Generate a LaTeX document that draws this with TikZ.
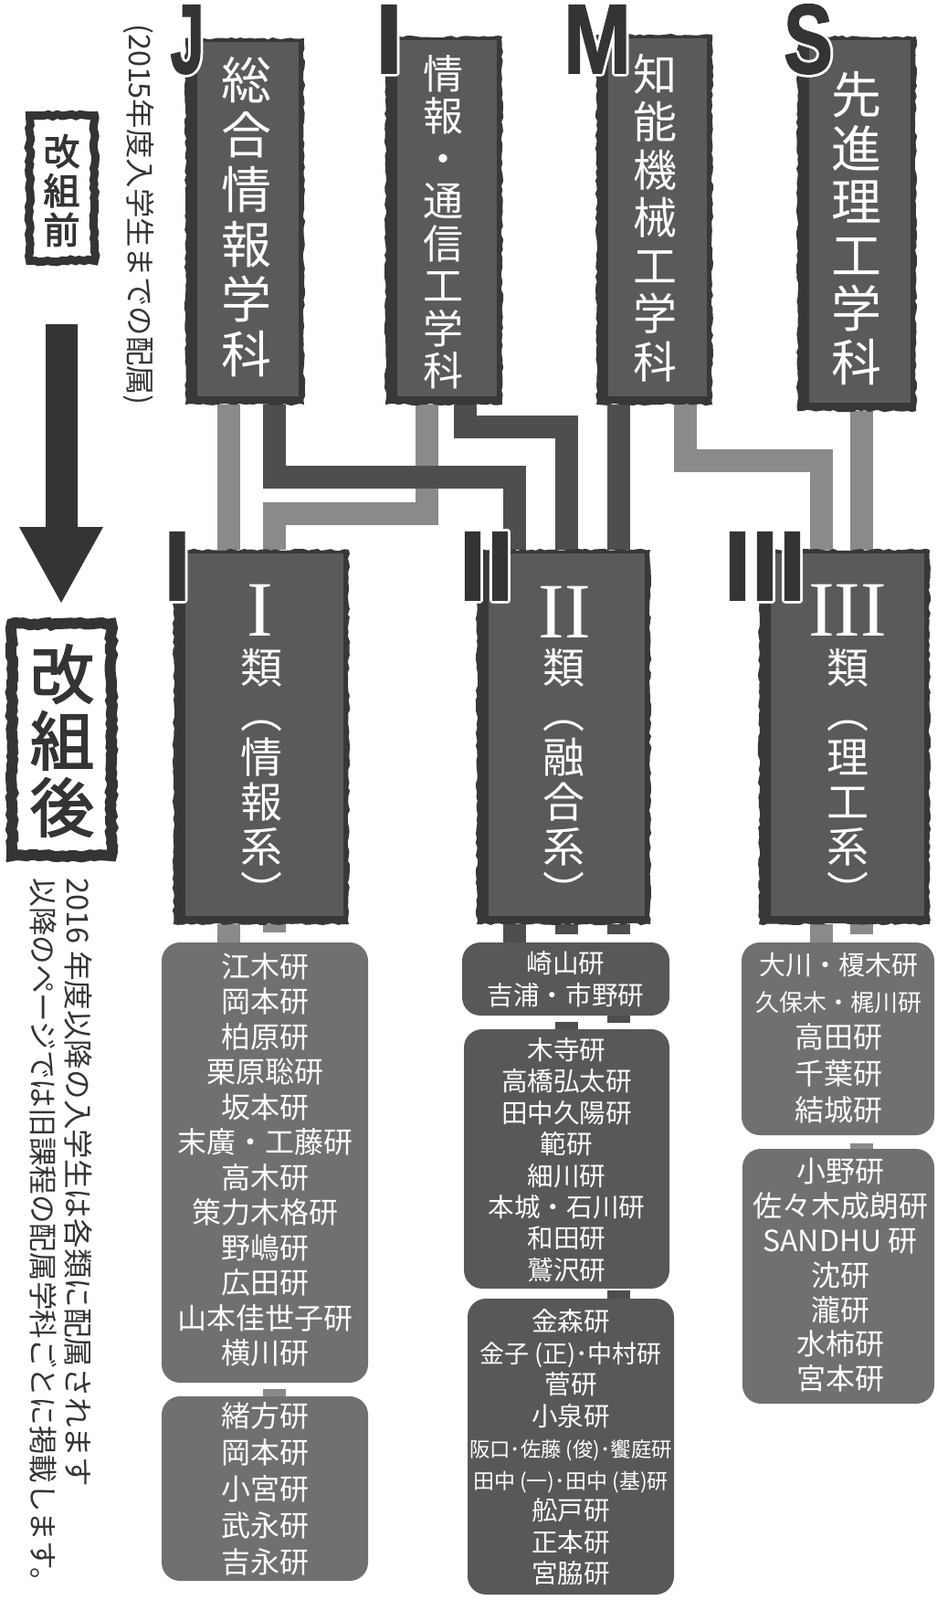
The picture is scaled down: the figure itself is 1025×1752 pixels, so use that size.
\documentclass[tikz,border=0pt]{standalone}
\usepackage{fontspec}
\setmainfont{Noto Sans CJK JP}
\newfontfamily\headjp[FakeBold=2.5]{Noto Sans CJK JP}
\newfontfamily\capfont[FakeBold=1.5]{Liberation Sans}
\newfontfamily\romanfont{Liberation Serif}
\usepackage[copies]{contour}
\contourlength{1.4pt}
\contournumber{12}
\usepackage{tikz}
\usetikzlibrary{positioning,calc,fit,backgrounds,decorations.pathmorphing}
\definecolor{framedark}{RGB}{56,56,56}
\definecolor{signfill}{RGB}{90,90,90}
\definecolor{bandlight}{RGB}{138,138,138}
\definecolor{banddark}{RGB}{78,78,78}
\definecolor{grouplight}{RGB}{112,112,112}
\definecolor{groupdark}{RGB}{88,88,88}
\definecolor{inkdark}{RGB}{52,52,52}
\tikzset{
  signframe/.style={fill=framedark, inner sep=0pt,
    decoration={random steps, segment length=2.5pt, amplitude=0.6pt}, decorate,
    path picture={\fill[signfill] ([shift={(14,5)}]path picture bounding box.north west) rectangle ([shift={(-7,-10)}]path picture bounding box.south east);}},
  signtext/.style={text=white, align=center, inner sep=0pt},
  labgroup/.style={rounded corners=10pt, inner sep=0pt},
  grouplt/.style={labgroup, fill=grouplight},
  groupdk/.style={labgroup, fill=groupdark},
  labtext/.style={text=white, align=center, inner sep=0pt},
  lightband/.style={draw=bandlight, line width=12.5pt, line cap=butt, line join=miter},
  darkband/.style={draw=banddark, line width=12.5pt, line cap=butt, line join=miter},
  roughframe/.style={draw=inkdark, line width=#1, fill=white, inner sep=0pt,
    decoration={random steps, segment length=2.5pt, amplitude=0.7pt}, decorate},
  deptletter/.style={text=inkdark, inner sep=0pt, anchor=base, font=\capfont\bfseries\fontsize{54pt}{54pt}\selectfont},
  notetext/.style={text=inkdark, rotate=-90, inner sep=0pt}
}
\begin{document}
\begin{tikzpicture}[x=0.5pt,y=-0.5pt]
\useasboundingbox (0,0) rectangle (1025,1752);

% before / after labels
\node[roughframe=4.5pt, fit={(32.5,126.5) (103.5,285.5)}] (beforebox) {};
\node[text=inkdark, align=center, inner sep=0pt, font=\headjp\fontsize{20pt}{21.5pt}\selectfont] (beforetext) at (67.5,208.5) {改\\組\\前};
\node[notetext, font=\fontsize{16.2pt}{16.2pt}\selectfont] (oldnote) at (152,235) {(2015年度入学生までの配属)};
\fill[inkdark] (50,355) -- (85,355) -- (85,577) -- (113,577) -- (67,660) -- (21,577) -- (50,577) -- cycle;
\node[roughframe=6pt, fit={(13,683) (122,937)}] (afterbox) {};
\node[text=inkdark, align=center, inner sep=0pt, font=\headjp\fontsize{35pt}{36.5pt}\selectfont] (aftertext) at (68,811) {改\\組\\後};
\node[notetext, anchor=west, font=\fontsize{16.3pt}{16.3pt}\selectfont] (newnote1) at (86,961) {2016 年度以降の入学生は各類に配属されます};
\node[notetext, anchor=west, font=\fontsize{15.8pt}{15.8pt}\selectfont] (newnote2) at (48,961) {以降のページでは旧課程の配属学科ごとに掲載します。};

% departments
\node[signframe, fit={(203,42) (333,443)}] (jbox) {};
\node[signframe, fit={(422,40) (550,443)}] (ibox) {};
\node[signframe, fit={(653,38) (780,443)}] (mbox) {};
\node[signframe, fit={(873,40) (1003,450)}] (sbox) {};
\node[signtext, font=\fontsize{27.5pt}{30pt}\selectfont] (jname) at (270,238) {総\\合\\情\\報\\学\\科};
\node[signtext, font=\fontsize{22pt}{23.25pt}\selectfont] (iname) at (485,243) {情\\報\\・\\通\\信\\工\\学\\科};
\node[signtext, font=\fontsize{24pt}{26.25pt}\selectfont] (mname) at (717,238.5) {知\\能\\機\\械\\工\\学\\科};
\node[signtext, font=\fontsize{27.5pt}{29.25pt}\selectfont] (sname) at (937.5,250) {先\\進\\理\\工\\学\\科};

% classes
\node[signframe, fit={(190,602) (382,1012)}] (c1box) {};
\node[signframe, fit={(522,602) (712,1012)}] (c2box) {};
\node[signframe, fit={(831,602) (1018,1012)}] (c3box) {};
\node[signtext, font=\romanfont\fontsize{43pt}{43pt}\selectfont] (c1num) at (285,668.5) {I};
\node[signtext, font=\romanfont\fontsize{43pt}{43pt}\selectfont] (c2num) at (618,670) {II};
\node[signtext, font=\romanfont\fontsize{43pt}{43pt}\selectfont] (c3num) at (928,668) {III};
\node[signtext, font=\fontsize{23pt}{24.5pt}\selectfont] (c1name) at (286,852) {類\\︵\\情\\報\\系\\︶};
\node[signtext, font=\fontsize{23pt}{24.5pt}\selectfont] (c2name) at (617,852) {類\\︵\\融\\合\\系\\︶};
\node[signtext, font=\fontsize{23pt}{24.5pt}\selectfont] (c3name) at (928,852) {類\\︵\\理\\工\\系\\︶};

% laboratories
\node[grouplt, fit={(177,1032) (403,1514)}] (g11) {};
\node[grouplt, fit={(177,1529) (403,1731)}] (g12) {};
\node[groupdk, fit={(506,1032) (733,1112)}] (g21) {};
\node[groupdk, fit={(508,1127) (733,1411)}] (g22) {};
\node[groupdk, fit={(512,1422) (738,1746)}] (g23) {};
\node[grouplt, fit={(812,1032) (1023,1243)}] (g31) {};
\node[grouplt, fit={(813,1258) (1023,1537)}] (g32) {};
\node[labtext, font=\fontsize{16pt}{19.25pt}\selectfont] (g11labs) at (290,1270) {江木研\\岡本研\\柏原研\\栗原聡研\\坂本研\\末廣・工藤研\\高木研\\策力木格研\\野嶋研\\広田研\\山本佳世子研\\横川研};
\node[labtext, font=\fontsize{16pt}{20pt}\selectfont] (g12labs) at (290,1630) {緒方研\\岡本研\\小宮研\\武永研\\吉永研};
\node[labtext, font=\fontsize{14.3pt}{17.5pt}\selectfont] (g21labs) at (619.5,1072.5) {崎山研\\吉浦・市野研};
\node[labtext, font=\fontsize{14.3pt}{17.2pt}\selectfont] (g22labs) at (620.5,1270) {木寺研\\高橋弘太研\\田中久陽研\\範研\\細川研\\本城・石川研\\和田研\\鷲沢研};
\node[labtext, font=\fontsize{14.3pt}{17.25pt}\selectfont] (g23labs) at (625,1585) {金森研\\{\fontsize{13.5pt}{17.25pt}\selectfont 金子 (正)･中村研}\\菅研\\小泉研\\{\fontsize{11.2pt}{17.25pt}\selectfont 阪口･佐藤 (俊)･饗庭研}\\{\fontsize{11.5pt}{17.25pt}\selectfont 田中 (一)･田中 (基)研}\\舩戸研\\正本研\\宮脇研};
\node[labtext, font=\fontsize{16pt}{20pt}\selectfont] (g31labs) at (918,1137) {{\fontsize{14.5pt}{20pt}\selectfont 大川・榎木研}\\{\fontsize{13pt}{20pt}\selectfont 久保木・梶川研}\\高田研\\千葉研\\結城研};
\node[labtext, font=\fontsize{16pt}{18.9pt}\selectfont] (g32labs) at (920,1396.5) {小野研\\佐々木成朗研\\SANDHU 研\\沈研\\瀧研\\水柿研\\宮本研};

% letters
\node[deptletter] (jlet) at (205,80) {\contour{white}{\scalebox{0.62}[1]{J}}};
\node[deptletter] (ilet) at (426,80) {\contour{white}{I}};
\node[deptletter] (mlet) at (654,80) {\contour{white}{\scalebox{0.82}[1]{M}}};
\node[deptletter] (slet) at (885,80) {\contour{white}{\scalebox{0.75}[1]{S}}};
\node[deptletter] (c1let) at (194,657) {\contour{white}{I}};
\node[deptletter] (c2let) at (532.5,657) {\contour{white}{II}};
\node[deptletter] (c3let) at (837.5,657) {\contour{white}{III}};

\coordinate (colJl) at (250.5,0); \coordinate (colJd) at (300,0);
\coordinate (colIl) at (467.5,0); \coordinate (colId) at (509,0);
\coordinate (colMd) at (677.5,0); \coordinate (colMl) at (750,0);
\coordinate (colSl) at (943,0);
\coordinate (col2a) at (563.5,0); \coordinate (col2b) at (620.5,0); \coordinate (col3a) at (899.5,0);
\coordinate (bendId) at (0,467.5); \coordinate (bendMl) at (0,504.5);
\coordinate (bendJd) at (0,522); \coordinate (bendIl) at (0,562);

\begin{scope}[on background layer]
\fill[white] (0,0) rectangle (1025,1752);
\draw[lightband] (jbox.south -| colJl) -- (c1box.north -| colJl);
\draw[lightband] (ibox.south -| colIl) |- (bendIl -| colJd) -- (c1box.north -| colJd);
\draw[lightband] (mbox.south -| colMl) |- (bendMl -| col3a) -- (c3box.north -| col3a);
\draw[lightband] (sbox.south -| colSl) -- (c3box.north -| colSl);
\draw[darkband] (jbox.south -| colJd) |- (bendJd -| col2a) -- (c2box.north -| col2a);
\draw[darkband] (ibox.south -| colId) |- (bendId -| col2b) -- (c2box.north -| col2b);
\draw[darkband] (mbox.south -| colMd) -- (c2box.north -| colMd);
\draw[lightband] (c1box.south -| colJl) -- (g11.north -| colJl);
\draw[lightband] (c1box.south -| colJd) -- ++(0,9);
\draw[lightband] (g12.north -| colJd) -- ++(0,-8);
\draw[darkband] (c2box.south -| col2a) -- (g21.north -| col2a);
\draw[darkband] (c2box.south -| col2b) -- ++(0,11);
\draw[darkband] (c2box.south -| colMd) -- ++(0,11);
\draw[darkband] (g22.north -| col2b) -- ++(0,-8);
\draw[darkband] (g21.south -| colMd) -- ++(0,8);
\draw[darkband] (g23.north -| colMd) -- ++(0,-9);
\draw[lightband] (c3box.south -| col3a) -- (g31.north -| col3a);
\draw[lightband] (c3box.south -| colSl) -- ++(0,11);
\draw[lightband] (g32.north -| colSl) -- ++(0,-6);
\end{scope}
\end{tikzpicture}
\end{document}
